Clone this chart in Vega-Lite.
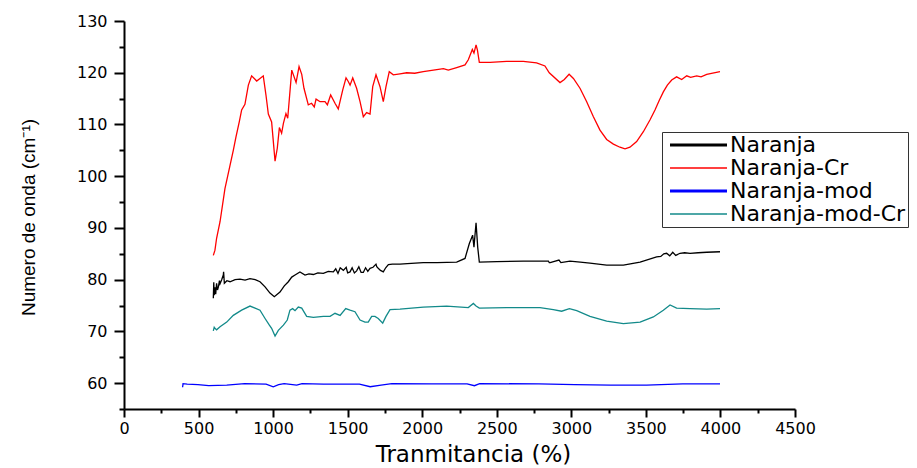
{
  "$schema": "https://vega.github.io/schema/vega-lite/v6.json",
  "width": 671,
  "height": 388,
  "autosize": "none",
  "padding": {"left": 124, "top": 21, "right": 122, "bottom": 59},
  "background": "white",
  "config": {"view": {"stroke": null}, "font": "DejaVu Sans"},
  "data": {"values": [
    {"s":"Naranja-Cr","x":599,"y":84.7},{"s":"Naranja-Cr","x":610,"y":85.7},{"s":"Naranja-Cr","x":621,"y":88},{"s":"Naranja-Cr","x":644,"y":91.2},{"s":"Naranja-Cr","x":677,"y":97.6},{"s":"Naranja-Cr","x":711,"y":102.1},{"s":"Naranja-Cr","x":733,"y":105},{"s":"Naranja-Cr","x":751,"y":107.6},{"s":"Naranja-Cr","x":773,"y":110.5},{"s":"Naranja-Cr","x":789,"y":112.8},{"s":"Naranja-Cr","x":811,"y":113.9},{"s":"Naranja-Cr","x":834,"y":117.6},{"s":"Naranja-Cr","x":856,"y":119.4},{"s":"Naranja-Cr","x":890,"y":118.4},{"s":"Naranja-Cr","x":912,"y":118.9},{"s":"Naranja-Cr","x":934,"y":119.4},{"s":"Naranja-Cr","x":952,"y":115.7},{"s":"Naranja-Cr","x":968,"y":112},{"s":"Naranja-Cr","x":990,"y":110.5},{"s":"Naranja-Cr","x":1013,"y":102.9},{"s":"Naranja-Cr","x":1028,"y":105.4},{"s":"Naranja-Cr","x":1042,"y":109.4},{"s":"Naranja-Cr","x":1057,"y":108.3},{"s":"Naranja-Cr","x":1069,"y":110.2},{"s":"Naranja-Cr","x":1086,"y":112.1},{"s":"Naranja-Cr","x":1098,"y":111.2},{"s":"Naranja-Cr","x":1125,"y":120.5},{"s":"Naranja-Cr","x":1154,"y":118.1},{"s":"Naranja-Cr","x":1174,"y":121.2},{"s":"Naranja-Cr","x":1192,"y":119.7},{"s":"Naranja-Cr","x":1207,"y":117},{"s":"Naranja-Cr","x":1236,"y":113.8},{"s":"Naranja-Cr","x":1258,"y":114.1},{"s":"Naranja-Cr","x":1276,"y":113.4},{"s":"Naranja-Cr","x":1288,"y":114.9},{"s":"Naranja-Cr","x":1315,"y":114.4},{"s":"Naranja-Cr","x":1348,"y":114.4},{"s":"Naranja-Cr","x":1364,"y":113.8},{"s":"Naranja-Cr","x":1386,"y":115.7},{"s":"Naranja-Cr","x":1415,"y":114.1},{"s":"Naranja-Cr","x":1437,"y":113},{"s":"Naranja-Cr","x":1467,"y":116.7},{"s":"Naranja-Cr","x":1489,"y":119},{"s":"Naranja-Cr","x":1504,"y":118.3},{"s":"Naranja-Cr","x":1516,"y":117.6},{"s":"Naranja-Cr","x":1534,"y":119},{"s":"Naranja-Cr","x":1560,"y":117},{"s":"Naranja-Cr","x":1583,"y":114.4},{"s":"Naranja-Cr","x":1605,"y":111.5},{"s":"Naranja-Cr","x":1627,"y":112.3},{"s":"Naranja-Cr","x":1650,"y":112},{"s":"Naranja-Cr","x":1668,"y":117.3},{"s":"Naranja-Cr","x":1690,"y":119.6},{"s":"Naranja-Cr","x":1717,"y":117.3},{"s":"Naranja-Cr","x":1739,"y":114.4},{"s":"Naranja-Cr","x":1757,"y":117.3},{"s":"Naranja-Cr","x":1779,"y":120.2},{"s":"Naranja-Cr","x":1806,"y":119.6},{"s":"Naranja-Cr","x":1851,"y":119.8},{"s":"Naranja-Cr","x":1896,"y":120},{"s":"Naranja-Cr","x":1950,"y":119.9},{"s":"Naranja-Cr","x":2007,"y":120.2},{"s":"Naranja-Cr","x":2075,"y":120.5},{"s":"Naranja-Cr","x":2142,"y":120.8},{"s":"Naranja-Cr","x":2175,"y":120.5},{"s":"Naranja-Cr","x":2231,"y":121},{"s":"Naranja-Cr","x":2287,"y":121.5},{"s":"Naranja-Cr","x":2309,"y":122.5},{"s":"Naranja-Cr","x":2336,"y":124.5},{"s":"Naranja-Cr","x":2347,"y":123.8},{"s":"Naranja-Cr","x":2361,"y":125.4},{"s":"Naranja-Cr","x":2370,"y":124.4},{"s":"Naranja-Cr","x":2383,"y":122},{"s":"Naranja-Cr","x":2455,"y":122},{"s":"Naranja-Cr","x":2566,"y":122.2},{"s":"Naranja-Cr","x":2678,"y":122.2},{"s":"Naranja-Cr","x":2767,"y":121.9},{"s":"Naranja-Cr","x":2823,"y":121.3},{"s":"Naranja-Cr","x":2852,"y":120},{"s":"Naranja-Cr","x":2924,"y":118.1},{"s":"Naranja-Cr","x":2953,"y":118.7},{"s":"Naranja-Cr","x":2985,"y":119.7},{"s":"Naranja-Cr","x":3014,"y":118.9},{"s":"Naranja-Cr","x":3058,"y":117},{"s":"Naranja-Cr","x":3103,"y":114.4},{"s":"Naranja-Cr","x":3148,"y":111.5},{"s":"Naranja-Cr","x":3192,"y":108.9},{"s":"Naranja-Cr","x":3237,"y":107.1},{"s":"Naranja-Cr","x":3282,"y":106.2},{"s":"Naranja-Cr","x":3326,"y":105.6},{"s":"Naranja-Cr","x":3360,"y":105.3},{"s":"Naranja-Cr","x":3393,"y":105.6},{"s":"Naranja-Cr","x":3438,"y":106.7},{"s":"Naranja-Cr","x":3483,"y":108.6},{"s":"Naranja-Cr","x":3528,"y":110.9},{"s":"Naranja-Cr","x":3561,"y":112.8},{"s":"Naranja-Cr","x":3590,"y":114.7},{"s":"Naranja-Cr","x":3617,"y":116.3},{"s":"Naranja-Cr","x":3644,"y":117.6},{"s":"Naranja-Cr","x":3673,"y":118.6},{"s":"Naranja-Cr","x":3706,"y":119.2},{"s":"Naranja-Cr","x":3740,"y":118.7},{"s":"Naranja-Cr","x":3774,"y":119.4},{"s":"Naranja-Cr","x":3800,"y":119.1},{"s":"Naranja-Cr","x":3841,"y":119.4},{"s":"Naranja-Cr","x":3870,"y":119.2},{"s":"Naranja-Cr","x":3908,"y":119.7},{"s":"Naranja-Cr","x":3997,"y":120.2},

    {"s":"Naranja","x":599,"y":76.4},{"s":"Naranja","x":602,"y":79.5},{"s":"Naranja","x":605,"y":77},{"s":"Naranja","x":610,"y":78.5},{"s":"Naranja","x":615,"y":77.2},{"s":"Naranja","x":621,"y":79.3},{"s":"Naranja","x":627,"y":78},{"s":"Naranja","x":633,"y":78.6},{"s":"Naranja","x":640,"y":79.8},{"s":"Naranja","x":644,"y":79.2},{"s":"Naranja","x":655,"y":80},{"s":"Naranja","x":666,"y":80.9},{"s":"Naranja","x":668,"y":81.5},{"s":"Naranja","x":673,"y":79.3},{"s":"Naranja","x":690,"y":79.8},{"s":"Naranja","x":711,"y":79.6},{"s":"Naranja","x":745,"y":80},{"s":"Naranja","x":778,"y":80.1},{"s":"Naranja","x":812,"y":79.9},{"s":"Naranja","x":845,"y":80.2},{"s":"Naranja","x":880,"y":80},{"s":"Naranja","x":912,"y":79.6},{"s":"Naranja","x":946,"y":78.6},{"s":"Naranja","x":979,"y":77.4},{"s":"Naranja","x":1008,"y":76.7},{"s":"Naranja","x":1046,"y":77.6},{"s":"Naranja","x":1075,"y":78.8},{"s":"Naranja","x":1102,"y":79.6},{"s":"Naranja","x":1125,"y":80.5},{"s":"Naranja","x":1147,"y":80.9},{"s":"Naranja","x":1180,"y":81.5},{"s":"Naranja","x":1214,"y":80.9},{"s":"Naranja","x":1240,"y":81.1},{"s":"Naranja","x":1270,"y":81},{"s":"Naranja","x":1300,"y":81.3},{"s":"Naranja","x":1337,"y":81.2},{"s":"Naranja","x":1370,"y":81.6},{"s":"Naranja","x":1404,"y":81.5},{"s":"Naranja","x":1420,"y":82.1},{"s":"Naranja","x":1435,"y":81.2},{"s":"Naranja","x":1450,"y":82.3},{"s":"Naranja","x":1471,"y":81.8},{"s":"Naranja","x":1490,"y":82.4},{"s":"Naranja","x":1500,"y":81.3},{"s":"Naranja","x":1516,"y":81.5},{"s":"Naranja","x":1530,"y":82.3},{"s":"Naranja","x":1545,"y":81.3},{"s":"Naranja","x":1560,"y":81.7},{"s":"Naranja","x":1575,"y":82.5},{"s":"Naranja","x":1590,"y":81.4},{"s":"Naranja","x":1605,"y":81.4},{"s":"Naranja","x":1620,"y":82.3},{"s":"Naranja","x":1635,"y":81.6},{"s":"Naranja","x":1650,"y":82.2},{"s":"Naranja","x":1670,"y":82.4},{"s":"Naranja","x":1690,"y":83},{"s":"Naranja","x":1695,"y":82.5},{"s":"Naranja","x":1705,"y":82.2},{"s":"Naranja","x":1720,"y":81.8},{"s":"Naranja","x":1739,"y":81.5},{"s":"Naranja","x":1755,"y":82.3},{"s":"Naranja","x":1773,"y":82.9},{"s":"Naranja","x":1800,"y":83},{"s":"Naranja","x":1851,"y":83},{"s":"Naranja","x":1900,"y":83.1},{"s":"Naranja","x":2007,"y":83.3},{"s":"Naranja","x":2100,"y":83.3},{"s":"Naranja","x":2231,"y":83.4},{"s":"Naranja","x":2287,"y":84.1},{"s":"Naranja","x":2316,"y":87},{"s":"Naranja","x":2338,"y":88.6},{"s":"Naranja","x":2347,"y":86.3},{"s":"Naranja","x":2361,"y":91},{"s":"Naranja","x":2372,"y":86.3},{"s":"Naranja","x":2383,"y":83.4},{"s":"Naranja","x":2500,"y":83.5},{"s":"Naranja","x":2678,"y":83.6},{"s":"Naranja","x":2846,"y":83.6},{"s":"Naranja","x":2852,"y":83.3},{"s":"Naranja","x":2858,"y":83.3},{"s":"Naranja","x":2917,"y":83.8},{"s":"Naranja","x":2930,"y":83.3},{"s":"Naranja","x":2991,"y":83.6},{"s":"Naranja","x":3060,"y":83.4},{"s":"Naranja","x":3125,"y":83.2},{"s":"Naranja","x":3237,"y":82.8},{"s":"Naranja","x":3349,"y":82.8},{"s":"Naranja","x":3461,"y":83.4},{"s":"Naranja","x":3572,"y":84.4},{"s":"Naranja","x":3600,"y":84.5},{"s":"Naranja","x":3620,"y":85},{"s":"Naranja","x":3639,"y":85.1},{"s":"Naranja","x":3660,"y":84.6},{"s":"Naranja","x":3680,"y":85.3},{"s":"Naranja","x":3700,"y":84.7},{"s":"Naranja","x":3729,"y":85.1},{"s":"Naranja","x":3760,"y":85.2},{"s":"Naranja","x":3796,"y":85.1},{"s":"Naranja","x":3850,"y":85.2},{"s":"Naranja","x":3908,"y":85.3},{"s":"Naranja","x":3997,"y":85.4},

    {"s":"Naranja-mod","x":393,"y":59.2},{"s":"Naranja-mod","x":396,"y":59.9},{"s":"Naranja-mod","x":424,"y":59.8},{"s":"Naranja-mod","x":496,"y":59.7},{"s":"Naranja-mod","x":568,"y":59.5},{"s":"Naranja-mod","x":689,"y":59.6},{"s":"Naranja-mod","x":809,"y":59.9},{"s":"Naranja-mod","x":953,"y":59.8},{"s":"Naranja-mod","x":1001,"y":59.3},{"s":"Naranja-mod","x":1037,"y":59.7},{"s":"Naranja-mod","x":1074,"y":59.9},{"s":"Naranja-mod","x":1158,"y":59.6},{"s":"Naranja-mod","x":1194,"y":59.9},{"s":"Naranja-mod","x":1338,"y":59.8},{"s":"Naranja-mod","x":1579,"y":59.8},{"s":"Naranja-mod","x":1651,"y":59.3},{"s":"Naranja-mod","x":1724,"y":59.6},{"s":"Naranja-mod","x":1796,"y":59.9},{"s":"Naranja-mod","x":2061,"y":59.85},{"s":"Naranja-mod","x":2301,"y":59.85},{"s":"Naranja-mod","x":2350,"y":59.5},{"s":"Naranja-mod","x":2385,"y":59.9},{"s":"Naranja-mod","x":2782,"y":59.85},{"s":"Naranja-mod","x":3023,"y":59.7},{"s":"Naranja-mod","x":3264,"y":59.6},{"s":"Naranja-mod","x":3505,"y":59.6},{"s":"Naranja-mod","x":3746,"y":59.85},{"s":"Naranja-mod","x":3997,"y":59.85},

    {"s":"Naranja-mod-Cr","x":599,"y":70.1},{"s":"Naranja-mod-Cr","x":605,"y":70.8},{"s":"Naranja-mod-Cr","x":610,"y":70.6},{"s":"Naranja-mod-Cr","x":621,"y":70.3},{"s":"Naranja-mod-Cr","x":644,"y":70.9},{"s":"Naranja-mod-Cr","x":689,"y":71.8},{"s":"Naranja-mod-Cr","x":733,"y":73.1},{"s":"Naranja-mod-Cr","x":789,"y":74.1},{"s":"Naranja-mod-Cr","x":845,"y":74.9},{"s":"Naranja-mod-Cr","x":879,"y":74.5},{"s":"Naranja-mod-Cr","x":912,"y":74.1},{"s":"Naranja-mod-Cr","x":946,"y":72.5},{"s":"Naranja-mod-Cr","x":975,"y":71.2},{"s":"Naranja-mod-Cr","x":990,"y":70.6},{"s":"Naranja-mod-Cr","x":1013,"y":69.1},{"s":"Naranja-mod-Cr","x":1035,"y":70.2},{"s":"Naranja-mod-Cr","x":1069,"y":71.2},{"s":"Naranja-mod-Cr","x":1095,"y":72.2},{"s":"Naranja-mod-Cr","x":1113,"y":74.1},{"s":"Naranja-mod-Cr","x":1131,"y":74.4},{"s":"Naranja-mod-Cr","x":1147,"y":74},{"s":"Naranja-mod-Cr","x":1169,"y":74.7},{"s":"Naranja-mod-Cr","x":1192,"y":74.5},{"s":"Naranja-mod-Cr","x":1225,"y":72.9},{"s":"Naranja-mod-Cr","x":1270,"y":72.7},{"s":"Naranja-mod-Cr","x":1337,"y":72.9},{"s":"Naranja-mod-Cr","x":1382,"y":72.9},{"s":"Naranja-mod-Cr","x":1415,"y":73.5},{"s":"Naranja-mod-Cr","x":1449,"y":73.1},{"s":"Naranja-mod-Cr","x":1487,"y":74.4},{"s":"Naranja-mod-Cr","x":1516,"y":74.1},{"s":"Naranja-mod-Cr","x":1549,"y":73.8},{"s":"Naranja-mod-Cr","x":1583,"y":72.2},{"s":"Naranja-mod-Cr","x":1616,"y":71.8},{"s":"Naranja-mod-Cr","x":1638,"y":71.8},{"s":"Naranja-mod-Cr","x":1661,"y":72.9},{"s":"Naranja-mod-Cr","x":1683,"y":72.9},{"s":"Naranja-mod-Cr","x":1705,"y":72.5},{"s":"Naranja-mod-Cr","x":1735,"y":71.6},{"s":"Naranja-mod-Cr","x":1757,"y":72.9},{"s":"Naranja-mod-Cr","x":1784,"y":74.2},{"s":"Naranja-mod-Cr","x":1851,"y":74.3},{"s":"Naranja-mod-Cr","x":2007,"y":74.7},{"s":"Naranja-mod-Cr","x":2164,"y":74.9},{"s":"Naranja-mod-Cr","x":2309,"y":74.6},{"s":"Naranja-mod-Cr","x":2343,"y":75.4},{"s":"Naranja-mod-Cr","x":2361,"y":74.9},{"s":"Naranja-mod-Cr","x":2383,"y":74.5},{"s":"Naranja-mod-Cr","x":2566,"y":74.6},{"s":"Naranja-mod-Cr","x":2790,"y":74.6},{"s":"Naranja-mod-Cr","x":2879,"y":74.2},{"s":"Naranja-mod-Cr","x":2935,"y":73.9},{"s":"Naranja-mod-Cr","x":2987,"y":74.4},{"s":"Naranja-mod-Cr","x":3036,"y":74},{"s":"Naranja-mod-Cr","x":3125,"y":72.9},{"s":"Naranja-mod-Cr","x":3237,"y":72},{"s":"Naranja-mod-Cr","x":3349,"y":71.5},{"s":"Naranja-mod-Cr","x":3461,"y":71.8},{"s":"Naranja-mod-Cr","x":3550,"y":72.8},{"s":"Naranja-mod-Cr","x":3617,"y":74.1},{"s":"Naranja-mod-Cr","x":3662,"y":75.1},{"s":"Naranja-mod-Cr","x":3706,"y":74.5},{"s":"Naranja-mod-Cr","x":3796,"y":74.4},{"s":"Naranja-mod-Cr","x":3908,"y":74.3},{"s":"Naranja-mod-Cr","x":3997,"y":74.4}
  ]},
  "mark": {"type": "line", "strokeWidth": 1.3},
  "encoding": {
    "x": {"field": "x", "type": "quantitative",
      "scale": {"domain": [0, 4500], "nice": false, "zero": false},
      "axis": {"orient": "bottom",
        "values": [0,250,500,750,1000,1250,1500,1750,2000,2250,2500,2750,3000,3250,3500,3750,4000,4250,4500],
        "labelExpr": "datum.value % 500 === 0 ? '' + datum.value : ''",
        "title": "Tranmitancia (%)", "titleFont": "DejaVu Sans", "titleFontSize": 23, "titleFontWeight": "normal", "titleColor": "#000",
        "titleX": 349, "titleY": 52, "titleAlign": "center", "titleBaseline": "alphabetic",
        "labelFont": "DejaVu Sans", "labelFontSize": 16, "labelColor": "#000", "labelPadding": 3, "labelFlush": false, "labelOverlap": false,
        "tickSize": {"condition": {"test": "datum.value % 500 === 0", "value": 8}, "value": 4},
        "tickWidth": 2, "tickColor": "#000", "domainColor": "#000", "domainWidth": 2, "grid": false}},
    "y": {"field": "y", "type": "quantitative",
      "scale": {"domain": [55, 130], "nice": false, "zero": false},
      "axis": {"orient": "left",
        "values": [55,60,65,70,75,80,85,90,95,100,105,110,115,120,125,130],
        "labelExpr": "datum.value % 10 === 0 ? '' + datum.value : ''",
        "title": "Numero de onda (cm⁻¹)", "titleFont": "Liberation Sans", "titleFontSize": 19, "titleFontWeight": "normal", "titleColor": "#000",
        "titleX": -90, "titleY": 196, "titleAlign": "center", "titleBaseline": "alphabetic", "titleAngle": 270,
        "labelFont": "DejaVu Sans", "labelFontSize": 16, "labelColor": "#000", "labelPadding": 7, "labelFlush": false, "labelOverlap": false,
        "tickSize": {"condition": {"test": "datum.value % 10 === 0", "value": 10}, "value": 5},
        "tickWidth": 2, "tickColor": "#000", "domainColor": "#000", "domainWidth": 2, "grid": false}},
    "color": {"field": "s", "type": "nominal",
      "scale": {"domain": ["Naranja", "Naranja-Cr", "Naranja-mod", "Naranja-mod-Cr"], "range": ["#000000", "#ff0000", "#0000ff", "#128a8a"]},
      "legend": {"orient": "none", "legendX": 538, "legendY": 111, "title": null,
        "symbolType": "M-1,0H10.4", "symbolSize": 100, "symbolStrokeWidth": 1.5,
        "labelFont": "DejaVu Sans", "labelFontSize": 22, "labelColor": "#000", "labelOffset": 44, "labelLimit": 400,
        "strokeColor": "#333", "padding": 2, "rowPadding": 1, "fillColor": "white",
        "encode": {"symbols": {"update": {
          "stroke": {"signal": "datum.value === 'Naranja' ? '#8a8a8a' : datum.value === 'Naranja-mod' ? '#8c8cff' : datum.value === 'Naranja-Cr' ? '#ff2a2a' : '#1a8f8f'"},
          "strokeWidth": {"signal": "datum.value === 'Naranja' || datum.value === 'Naranja-mod' ? 3 : 1.5"}}}}}}
  }
}
